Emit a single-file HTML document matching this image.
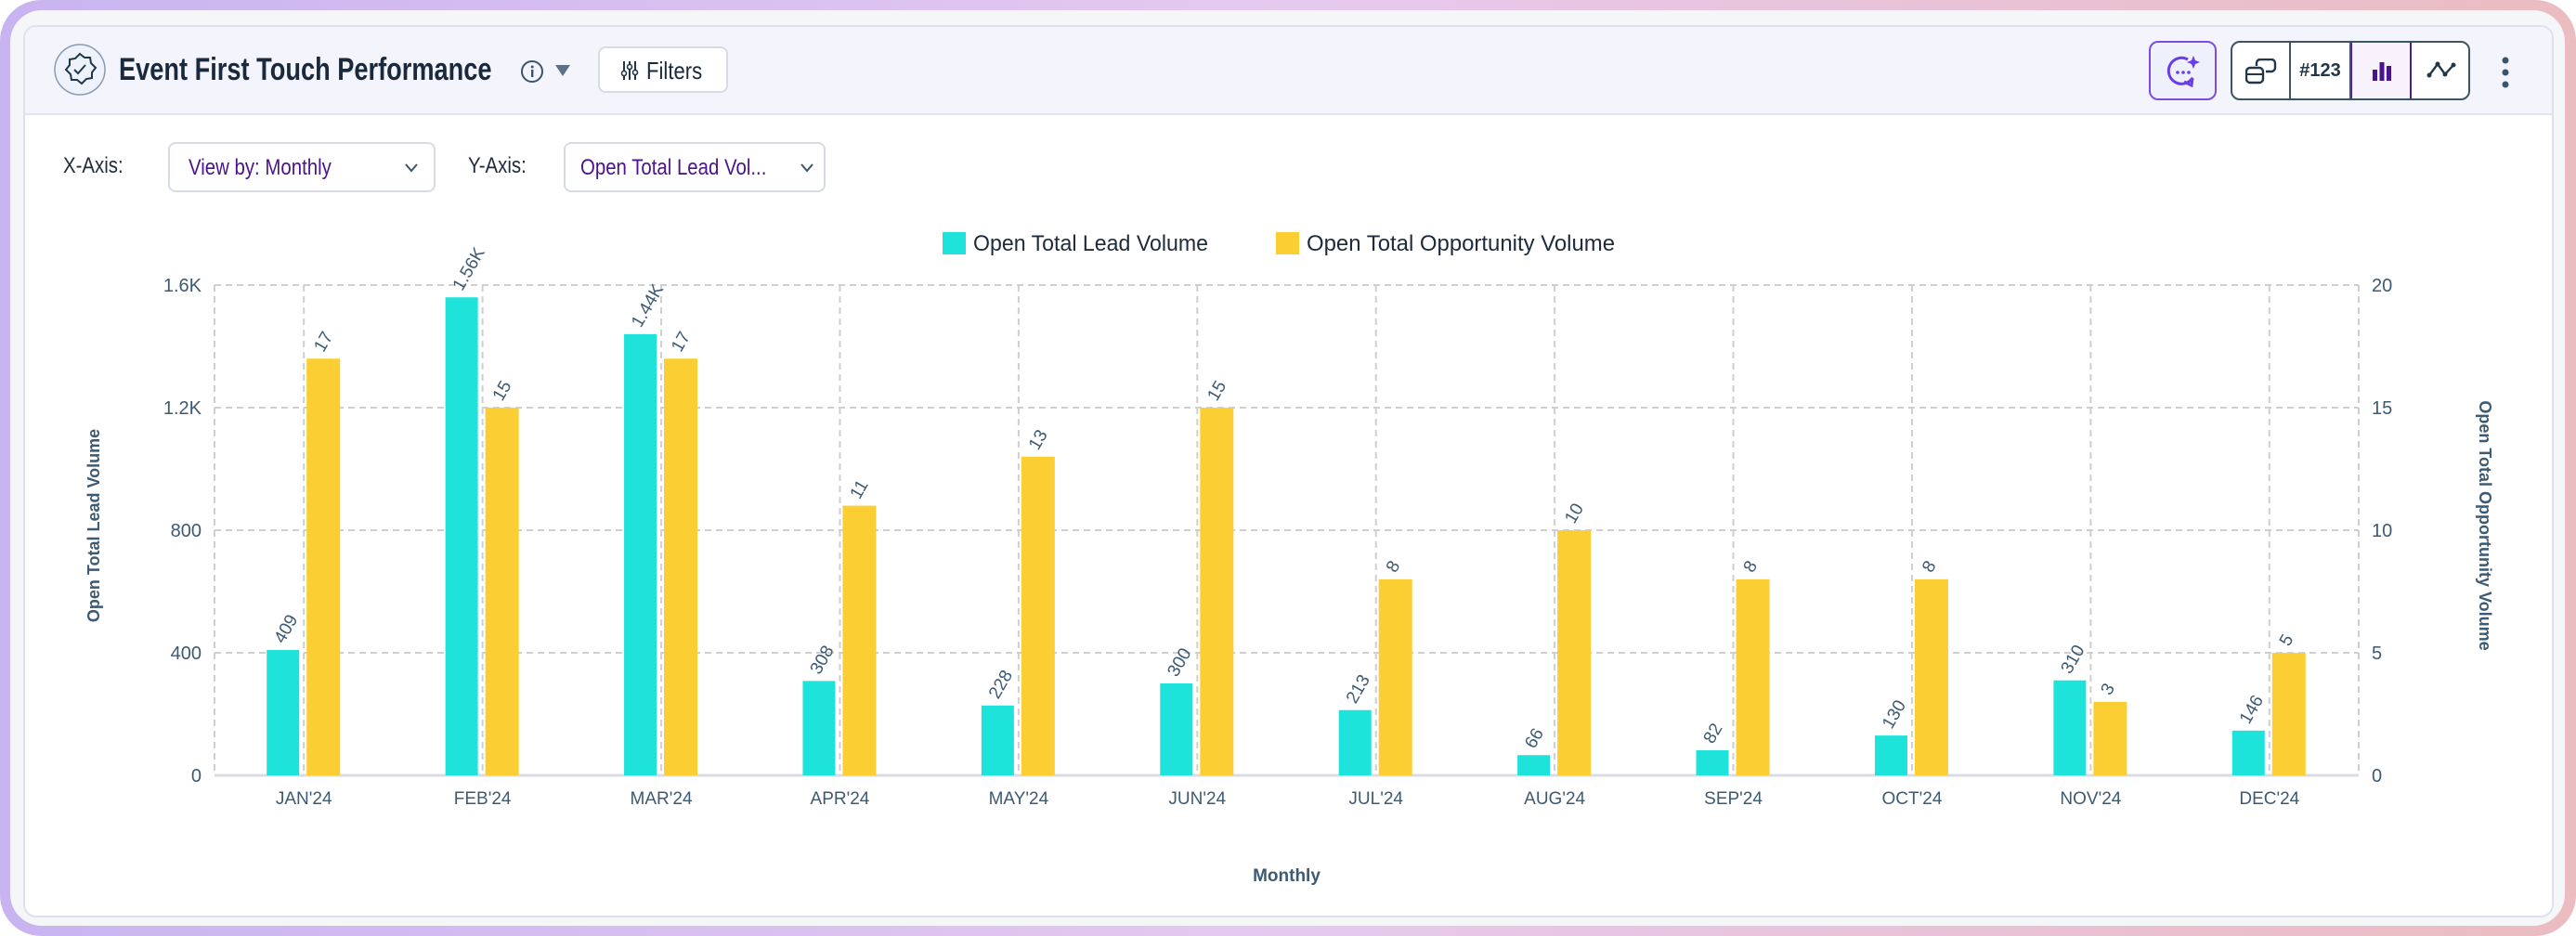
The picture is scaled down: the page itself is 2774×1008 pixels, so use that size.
<!DOCTYPE html>
<html><head><meta charset="utf-8">
<style>
*{box-sizing:border-box;margin:0;padding:0}
body{width:2774px;height:1008px;overflow:hidden;font-family:"Liberation Sans",sans-serif;background:#fff}
#frame{position:absolute;left:0;top:0;width:2774px;height:1008px;border-radius:44px;background:linear-gradient(90deg,#c8b4f0,#e6c9ef 50%,#ebbcc0)}
#inner{position:absolute;left:11px;top:11px;right:12px;bottom:11px;border-radius:34px;background:#f4f6f8}
#card{position:absolute;left:25px;top:27px;width:2725px;height:961px;border:2px solid #dfe0ef;border-radius:14px;background:#fff;overflow:hidden}
#hdr{position:absolute;left:0;top:0;right:0;height:95px;background:#f4f4fd;border-bottom:2px solid #e1e3ee}
.abs{position:absolute}
.btn{position:absolute;border:2px solid #d7dbe3;border-radius:8px;background:#fff}
.lbl{position:absolute;font-size:24px;color:#1d2b3a;transform-origin:left center;transform:scaleX(.85);white-space:nowrap}
</style></head>
<body>
<div id="frame"></div>
<div id="inner"></div>
<div id="card">
 <div id="hdr">
  <svg class="abs" style="left:30px;top:17px" width="58" height="58">
   <circle cx="29" cy="29" r="27" fill="#eef2fa" stroke="#8a9bb0" stroke-width="1.5"/>
   <path d="M29 12 l5 4 6 0 1 6 5 5 -4 5 0 6 -6 1 -5 5 -5 -4 -6 0 -1 -6 -5 -5 4 -5 0 -6 6 -1z" fill="none" stroke="#22364a" stroke-width="2"/>
   <path d="M23 29 l4 4 8 -9" fill="none" stroke="#22364a" stroke-width="2"/>
  </svg>
  <div class="abs" style="left:101px;top:27px;font-size:34px;font-weight:bold;color:#1a2a3c;transform:scaleX(.8);transform-origin:left center;white-space:nowrap">Event First Touch Performance</div>
  <svg class="abs" style="left:533px;top:35px" width="26" height="26"><circle cx="13" cy="13" r="11" fill="none" stroke="#3b5369" stroke-width="2"/><rect x="12" y="11" width="2.4" height="8" fill="#3b5369"/><circle cx="13.2" cy="8" r="1.5" fill="#3b5369"/></svg>
  <svg class="abs" style="left:570px;top:40px" width="18" height="14"><path d="M1 1 H17 L9 13z" fill="#5d7186"/></svg>
  <div class="btn" style="left:617px;top:21px;width:140px;height:50px">
   <svg class="abs" style="left:22px;top:13px" width="20" height="22"><g stroke="#22364a" stroke-width="2"><line x1="4" y1="1" x2="4" y2="21"/><line x1="10" y1="1" x2="10" y2="21"/><line x1="16" y1="1" x2="16" y2="21"/></g><g fill="#fff" stroke="#22364a" stroke-width="1.6"><circle cx="4" cy="14" r="2.5"/><circle cx="10" cy="7" r="2.5"/><circle cx="16" cy="13" r="2.5"/></g></svg>
   <div class="abs" style="left:50px;top:9px;font-size:26px;color:#1a2a3c;transform:scaleX(.85);transform-origin:left">Filters</div>
  </div>
  <div class="abs" style="left:2287px;top:15px;width:73px;height:64px;border:2px solid #7a4de0;border-radius:10px;background:#eef0fc">
   <svg class="abs" style="left:16px;top:12px" width="40" height="40"><path d="M24 6 A14 14 0 1 0 29 26 L28 34 L20 30" fill="none" stroke="#6a3de8" stroke-width="3"/><circle cx="13" cy="20" r="1.8" fill="#6a3de8"/><circle cx="19" cy="20" r="1.8" fill="#6a3de8"/><circle cx="25" cy="20" r="1.8" fill="#6a3de8"/><path d="M30 2 l2 5 5 2 -5 2 -2 5 -2 -5 -5 -2 5 -2z" fill="#6a3de8"/></svg>
  </div>
  <div class="abs" style="left:2375px;top:15px;width:258px;height:64px;border:2px solid #3b5567;border-radius:10px;background:#fff;overflow:hidden">
   <div class="abs" style="left:0;top:0;width:63px;height:60px;border-right:2px solid #3b5567"><svg class="abs" style="left:14px;top:17px" width="34" height="28"><rect x="1" y="10" width="18" height="16" rx="4" fill="none" stroke="#22364a" stroke-width="2.4"/><line x1="1" y1="17" x2="19" y2="17" stroke="#22364a" stroke-width="2"/><path d="M12 8 V5 a4 4 0 0 1 4 -4 h12 a4 4 0 0 1 4 4 v5 a4 4 0 0 1 -4 4 h-6" fill="none" stroke="#22364a" stroke-width="2.4"/></svg></div>
   <div class="abs" style="left:63px;top:0;width:65px;height:60px;border-right:2px solid #3b5567;font-size:20px;font-weight:bold;color:#22364a;text-align:center;line-height:60px">#123</div>
   <div class="abs" style="left:128px;top:0;width:65px;height:60px;border-right:2px solid #4a1a9a;border-left:1px solid #4a1a9a;background:#f8f2fd"><svg class="abs" style="left:21px;top:20px" width="22" height="22"><rect x="1" y="9" width="5" height="12" fill="#4a148c"/><rect x="8.5" y="1" width="5" height="20" fill="#4a148c"/><rect x="16" y="5" width="5" height="16" fill="#4a148c"/></svg></div>
   <div class="abs" style="left:193px;top:0;width:65px;height:60px"><svg class="abs" style="left:16px;top:18px" width="32" height="22"><polyline points="3,17 12,5 20,16 29,6" fill="none" stroke="#22364a" stroke-width="2.4"/><g fill="#22364a"><circle cx="3" cy="17" r="2.5"/><circle cx="12" cy="5" r="2.5"/><circle cx="20" cy="16" r="2.5"/><circle cx="29" cy="6" r="2.5"/></g></svg></div>
  </div>
  <svg class="abs" style="left:2664px;top:32px" width="14" height="34"><g fill="#3b5567"><circle cx="7" cy="4" r="3.5"/><circle cx="7" cy="17" r="3.5"/><circle cx="7" cy="30" r="3.5"/></g></svg>
 </div>
 <div class="lbl" style="left:41px;top:136px">X-Axis:</div>
 <div class="btn" style="left:154px;top:124px;width:288px;height:54px">
  <div class="abs" style="left:20px;top:12px;font-size:24px;color:#4a148c;transform:scaleX(.85);transform-origin:left;white-space:nowrap">View by: Monthly</div>
  <svg class="abs" style="left:252px;top:20px" width="16" height="12"><path d="M2 2 L8 9 L14 2" fill="none" stroke="#3b5567" stroke-width="2"/></svg>
 </div>
 <div class="lbl" style="left:477px;top:136px">Y-Axis:</div>
 <div class="btn" style="left:580px;top:124px;width:282px;height:54px">
  <div class="abs" style="left:16px;top:12px;font-size:24px;color:#4a148c;transform:scaleX(.85);transform-origin:left;white-space:nowrap">Open Total Lead Vol...</div>
  <svg class="abs" style="left:252px;top:20px" width="16" height="12"><path d="M2 2 L8 9 L14 2" fill="none" stroke="#3b5567" stroke-width="2"/></svg>
 </div>
</div>
<svg id="chart" class="abs" style="left:0;top:0" width="2774" height="1008"></svg>
<script>
const categories=["JAN'24","FEB'24","MAR'24","APR'24","MAY'24","JUN'24","JUL'24","AUG'24","SEP'24","OCT'24","NOV'24","DEC'24"];
const leadValues=[409,1560,1440,308,228,300,213,66,82,130,310,146];
const oppValues=[17,15,17,11,13,15,8,10,8,8,3,5];
const leftTicks=[0,400,800,1200,1600];
const leftTickLabels=["0","400","800","1.2K","1.6K"];
const rightTicks=[0,5,10,15,20];
const seriesNames=["Open Total Lead Volume","Open Total Opportunity Volume"];

const NS="http://www.w3.org/2000/svg";
const svg=document.getElementById('chart');
const L=231,R=2540,T=307,B=835;
const band=(R-L)/categories.length;
const xc=i=>L+band*(i+0.5);
const yL=v=>B-(v/1600)*(B-T);
const yR=v=>B-(v/20)*(B-T);
function mk(tag,attrs,parent){const e=document.createElementNS(NS,tag);for(const k in attrs)e.setAttribute(k,attrs[k]);(parent||svg).appendChild(e);return e;}
function fmt(v){return v>=1000?(v/1000).toFixed(2).replace(/0$/,'')+'K':String(v);}
const TXT="#3d5a73",FONT="Liberation Sans, sans-serif";
// grid
leftTicks.forEach((t,i)=>{
 const g=mk('line',{x1:L,x2:R,y1:yL(t),y2:yL(t),stroke:i==0?'#d9dde3':'#cfcfcf','stroke-width':i==0?3:2,'stroke-dasharray':i==0?'':'7 5'});
 
 
 const tx=mk('text',{x:L-14,y:yL(t)+7,'text-anchor':'end','font-size':20,fill:TXT,'font-family':FONT});
 tx.textContent=leftTickLabels[i];
 
 
});
rightTicks.forEach(t=>{
 const tx=mk('text',{x:R+14,y:yR(t)+7,'font-size':20,fill:TXT,'font-family':FONT});
 tx.textContent=String(t);
 
 
});
[L,R].forEach(x=>{const g=mk('line',{x1:x,x2:x,y1:T,y2:B,stroke:'#cfcfcf','stroke-width':2,'stroke-dasharray':'7 5'});
 
 });
categories.forEach((c,i)=>{
 const g=mk('line',{x1:xc(i),x2:xc(i),y1:T,y2:B,stroke:'#cfcfcf','stroke-width':2,'stroke-dasharray':'7 5'});
 
 
});
categories.forEach((c,i)=>{
 const cx=xc(i);
 const b1=mk('rect',{x:cx-40,y:yL(leadValues[i]),width:35,height:B-yL(leadValues[i]),fill:'#1de3da'});
 
 
 const b2=mk('rect',{x:cx+3,y:yR(oppValues[i]),width:36,height:B-yR(oppValues[i]),fill:'#fbce34'});
 
 
 const l1=mk('text',{x:0,y:0,'font-size':19,fill:TXT,'font-family':FONT,transform:`translate(${cx-22},${yL(leadValues[i])-6}) rotate(-60)`});
 l1.textContent=fmt(leadValues[i]);
 
 
 const l2=mk('text',{x:0,y:0,'font-size':19,fill:TXT,'font-family':FONT,transform:`translate(${cx+21},${yR(oppValues[i])-6}) rotate(-60)`});
 l2.textContent=String(oppValues[i]);
 
 
 const xl=mk('text',{x:cx,y:866,'text-anchor':'middle','font-size':19,fill:TXT,'font-family':FONT});
 xl.textContent=c;
 
 
});
const xt=mk('text',{x:(L+R)/2,y:949,'text-anchor':'middle','font-size':19,'font-weight':'bold',fill:TXT,'font-family':FONT});
xt.textContent='Monthly';


const ylt=mk('text',{x:0,y:0,'text-anchor':'middle','font-size':18,'font-weight':'bold',fill:TXT,'font-family':FONT,transform:'translate(107,566) rotate(-90)'});
ylt.textContent='Open Total Lead Volume';


const yrt=mk('text',{x:0,y:0,'text-anchor':'middle','font-size':18,'font-weight':'bold',fill:TXT,'font-family':FONT,transform:'translate(2670,566) rotate(90)'});
yrt.textContent='Open Total Opportunity Volume';


// legend
const legX=[1015,1374],legC=['#1de3da','#fbce34'],legW=[253,332];
seriesNames.forEach((n,i)=>{
 const s=mk('rect',{x:legX[i],y:250,width:25,height:24,fill:legC[i]});
 
 
 const t=mk('text',{x:legX[i]+33,y:270,'font-size':24,fill:'#1d2b3a','font-family':FONT,textLength:legW[i],lengthAdjust:'spacingAndGlyphs'});
 t.textContent=n;
 
 
});
</script>
</body></html>
